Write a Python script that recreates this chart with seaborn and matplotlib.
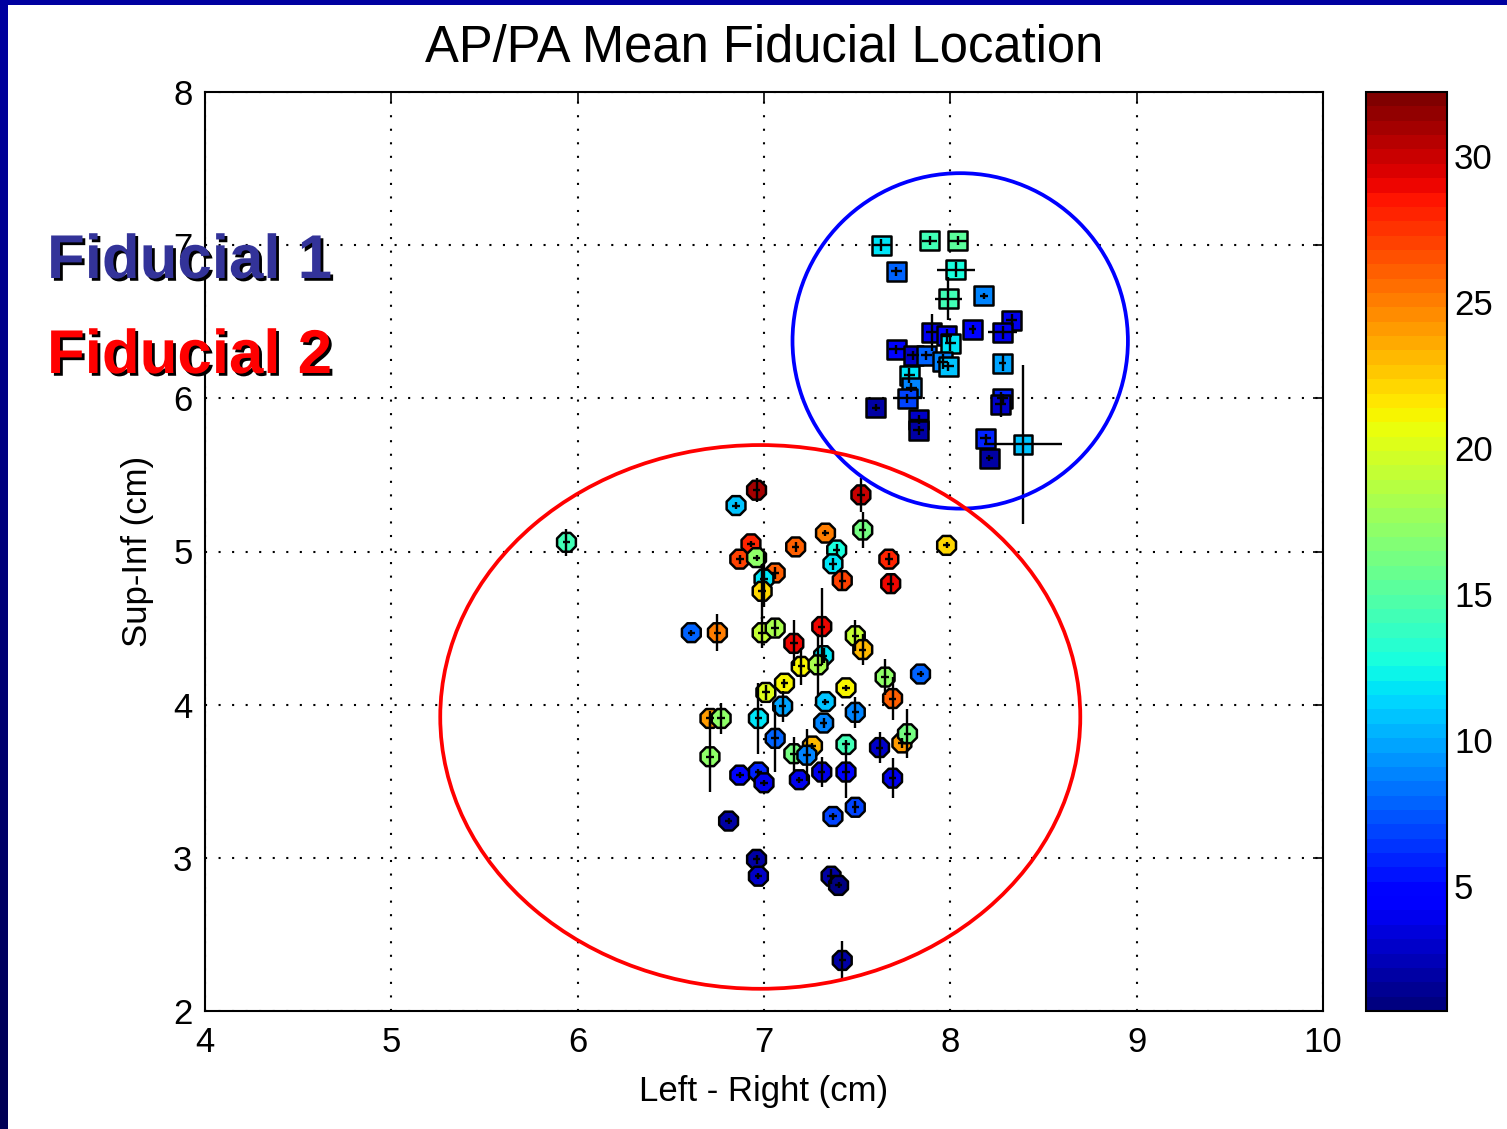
import numpy as np
import pandas as pd
import matplotlib
matplotlib.use("Agg")
import matplotlib.pyplot as plt
import matplotlib.patheffects as pe
from matplotlib.patches import Ellipse
import seaborn as sns

# ---------------- data ----------------
# Fiducial 1 (squares)
f1_x = [7.63, 7.89, 8.04, 7.71, 8.03, 7.99, 8.18, 8.33, 8.28, 8.12, 7.90, 7.98, 8.00, 7.71, 7.80,
        7.87, 7.96, 7.99, 8.28, 7.78, 7.79, 7.77, 8.28, 8.27, 7.60, 7.83, 7.83, 8.19, 8.39, 8.21]
f1_y = [7.00, 7.03, 7.03, 6.83, 6.84, 6.65, 6.67, 6.51, 6.43, 6.45, 6.43, 6.41, 6.36, 6.32, 6.28,
        6.28, 6.24, 6.21, 6.23, 6.15, 6.07, 6.00, 6.00, 5.96, 5.94, 5.86, 5.79, 5.74, 5.70, 5.61]
f1_c = [12, 14, 15, 8, 13, 14, 9, 4, 4, 5, 4, 5, 12, 5, 3,
        8, 9, 11, 10, 12, 9, 7, 6, 3, 2, 3, 2, 6, 11, 2]
f1_xerr = [0.05, 0.04, 0.05, 0.03, 0.10, 0.07, 0.02, 0.03, 0.08, 0.02, 0.03, 0.03, 0.03, 0.04, 0.03,
           0.03, 0.03, 0.03, 0.02, 0.03, 0.03, 0.08, 0.03, 0.03, 0.02, 0.05, 0.03, 0.03, 0.21, 0.02]
f1_yerr = [0.04, 0.03, 0.03, 0.03, 0.05, 0.14, 0.02, 0.04, 0.04, 0.03, 0.12, 0.04, 0.05, 0.03, 0.03,
           0.03, 0.05, 0.03, 0.05, 0.05, 0.03, 0.03, 0.03, 0.08, 0.02, 0.03, 0.03, 0.03, 0.52, 0.02]

# Fiducial 2 (circles)
f2_x = [5.94, 6.96, 6.85, 7.52, 7.53, 6.93, 7.33, 7.17, 6.87, 6.96, 7.39, 7.37, 7.67, 7.06, 7.00,
        7.42, 7.68, 6.99, 6.61, 6.75, 6.99, 7.06, 7.31, 7.16, 7.49, 7.53, 7.32, 7.20, 7.29, 7.65,
        7.84, 7.11, 7.44, 7.01, 7.10, 7.33, 7.69, 6.71, 6.77, 6.97, 7.49, 7.32, 7.06, 6.71, 7.16,
        7.26, 7.23, 7.44, 7.62, 7.74, 7.77, 6.87, 6.97, 7.00, 7.19, 7.31, 7.44, 7.69, 6.81, 7.37,
        7.49, 6.96, 6.97, 7.36, 7.40, 7.42, 7.98]
f2_y = [5.06, 5.40, 5.30, 5.37, 5.14, 5.05, 5.12, 5.03, 4.95, 4.96, 5.01, 4.92, 4.95, 4.86, 4.82,
        4.81, 4.79, 4.74, 4.47, 4.47, 4.47, 4.50, 4.51, 4.40, 4.45, 4.36, 4.32, 4.25, 4.26, 4.18,
        4.20, 4.14, 4.11, 4.08, 3.99, 4.02, 4.04, 3.91, 3.91, 3.91, 3.95, 3.88, 3.78, 3.66, 3.68,
        3.73, 3.67, 3.74, 3.72, 3.75, 3.81, 3.54, 3.56, 3.49, 3.51, 3.56, 3.56, 3.52, 3.24, 3.27,
        3.33, 2.99, 2.88, 2.88, 2.82, 2.33, 5.04]
f2_c = [14, 31, 11, 30, 16, 28, 25, 26, 27, 17, 13, 12, 28, 26, 12,
        27, 29, 22, 8, 25, 19, 18, 29, 29, 19, 23, 12, 21, 18, 17,
        8, 21, 21, 20, 10, 11, 26, 24, 17, 12, 9, 9, 8, 17, 16,
        23, 9, 14, 3, 24, 16, 5, 6, 4, 4, 4, 5, 4, 2, 7,
        7, 2, 3, 2, 1, 2, 22]
f2_xerr = [0.02] * 67
f2_yerr = [0.09, 0.08, 0.02, 0.11, 0.12, 0.02, 0.02, 0.03, 0.03, 0.02, 0.04, 0.04, 0.04, 0.04, 0.18,
           0.07, 0.07, 0.18, 0.02, 0.12, 0.10, 0.05, 0.25, 0.15, 0.10, 0.10, 0.05, 0.12, 0.20, 0.12,
           0.02, 0.03, 0.02, 0.05, 0.10, 0.02, 0.14, 0.05, 0.10, 0.23, 0.10, 0.03, 0.22, 0.23, 0.11,
           0.02, 0.17, 0.03, 0.10, 0.03, 0.16, 0.02, 0.02, 0.02, 0.02, 0.10, 0.17, 0.13, 0.02, 0.02,
           0.04, 0.03, 0.02, 0.05, 0.02, 0.13, 0.02]

x_ticks = [4, 5, 6, 7, 8, 9, 10]
y_ticks = [2, 3, 4, 5, 6, 7, 8]
cb_ticks = [5, 10, 15, 20, 25, 30]
c_min, c_max = 0.7, 32.2

title_text = "AP/PA Mean Fiducial Location"
x_label = "Left - Right (cm)"
y_label = "Sup-Inf (cm)"
label_f1 = "Fiducial 1"
label_f2 = "Fiducial 2"

# ---------------- style ----------------
sns.set_theme(style="white")
plt.rcParams["font.family"] = ["Liberation Sans", "DejaVu Sans"]

W, H = 1507, 1129
fig = plt.figure(figsize=(W / 100, H / 100), dpi=100)
fig.patch.set_facecolor("white")

def fx(px):
    return px / W

def fy(py):
    return 1 - py / H

ax = fig.add_axes([fx(205), fy(1011), fx(1323) - fx(205), fy(92) - fy(1011)])
cax = fig.add_axes([fx(1366), fy(1011), fx(1447) - fx(1366), fy(92) - fy(1011)])

cmap = plt.get_cmap("jet", 64)
norm = matplotlib.colors.Normalize(vmin=c_min, vmax=c_max)

df1 = pd.DataFrame({"x": f1_x, "y": f1_y, "c": f1_c})
df2 = pd.DataFrame({"x": f2_x, "y": f2_y, "c": f2_c})

sns.scatterplot(data=df2, x="x", y="y", hue="c", palette=cmap, hue_norm=norm,
                marker="8", s=215, edgecolor="black", linewidth=1.8, legend=False,
                ax=ax, zorder=3)
sns.scatterplot(data=df1, x="x", y="y", hue="c", palette=cmap, hue_norm=norm,
                marker="s", s=185, edgecolor="black", linewidth=1.8, legend=False,
                ax=ax, zorder=3)

ax.errorbar(f2_x, f2_y, xerr=f2_xerr, yerr=f2_yerr, fmt="none", ecolor="black",
            elinewidth=1.7, capsize=0, zorder=4)
ax.errorbar(f1_x, f1_y, xerr=f1_xerr, yerr=f1_yerr, fmt="none", ecolor="black",
            elinewidth=1.7, capsize=0, zorder=4)

ax.set_xlim(4, 10)
ax.set_ylim(2, 8)
ax.set_xticks(x_ticks)
ax.set_yticks(y_ticks)
ax.set_xticklabels([str(t) for t in x_ticks])
ax.set_yticklabels([str(t) for t in y_ticks])
ax.tick_params(direction="in", length=7, width=1.2, top=True, right=True,
               labelsize=25, colors="black", pad=9)
ax.tick_params(axis="x", pad=11)
ax.grid(True, color="black", linestyle=(0, (1, 5.5)), linewidth=1.5, zorder=1)
ax.set_axisbelow(True)
for sp in ax.spines.values():
    sp.set_color("black")
    sp.set_linewidth(1.5)
    sp.set_visible(True)

ax.set_title(title_text, fontsize=36.5, color="black", pad=22)
ax.set_xlabel(x_label, fontsize=25, color="black", labelpad=11)
ax.set_ylabel(y_label, fontsize=25, color="black", labelpad=14)

# circles around groups
ax.add_patch(Ellipse((8.053, 6.375), 1.80, 2.19, fill=False, edgecolor="#0000ff",
                     linewidth=2.7, clip_on=False, zorder=5))
ax.add_patch(Ellipse((6.98, 3.92), 3.435, 3.55, fill=False, edgecolor="#ff0000",
                     linewidth=2.7, clip_on=False, zorder=5))

# colorbar
sm = matplotlib.cm.ScalarMappable(norm=norm, cmap=cmap)
cb = fig.colorbar(sm, cax=cax)
cb.set_ticks(cb_ticks)
cb.ax.tick_params(direction="in", length=6, width=1.5, left=True, right=True,
                  labelsize=25, colors="black", pad=5)
cb.outline.set_edgecolor("black")
cb.outline.set_linewidth(1.5)

# Fiducial labels
shadow = [pe.withSimplePatchShadow(offset=(2, -2), shadow_rgbFace="black", alpha=1.0)]
fig.text(fx(47), fy(278), label_f1, fontsize=44.5, fontweight="bold", color="#333399",
         ha="left", va="baseline", path_effects=shadow)
fig.text(fx(47), fy(373), label_f2, fontsize=44.5, fontweight="bold", color="#ff0000",
         ha="left", va="baseline", path_effects=shadow)

# slide border (top strip and left gradient strip)
top_ax = fig.add_axes([0, fy(5), 1, 5 / H])
top_ax.set_facecolor("#0000a0")
top_ax.set_xticks([]); top_ax.set_yticks([])
for sp in top_ax.spines.values():
    sp.set_visible(False)
left_ax = fig.add_axes([0, 0, 8 / W, 1])
grad = np.linspace(0, 1, 256).reshape(-1, 1)
left_cmap = matplotlib.colors.LinearSegmentedColormap.from_list("b", ["#0000a0", "#000055"])
left_ax.imshow(grad, aspect="auto", cmap=left_cmap)
left_ax.set_axis_off()

fig.savefig("out.png", dpi=100, facecolor="white")
